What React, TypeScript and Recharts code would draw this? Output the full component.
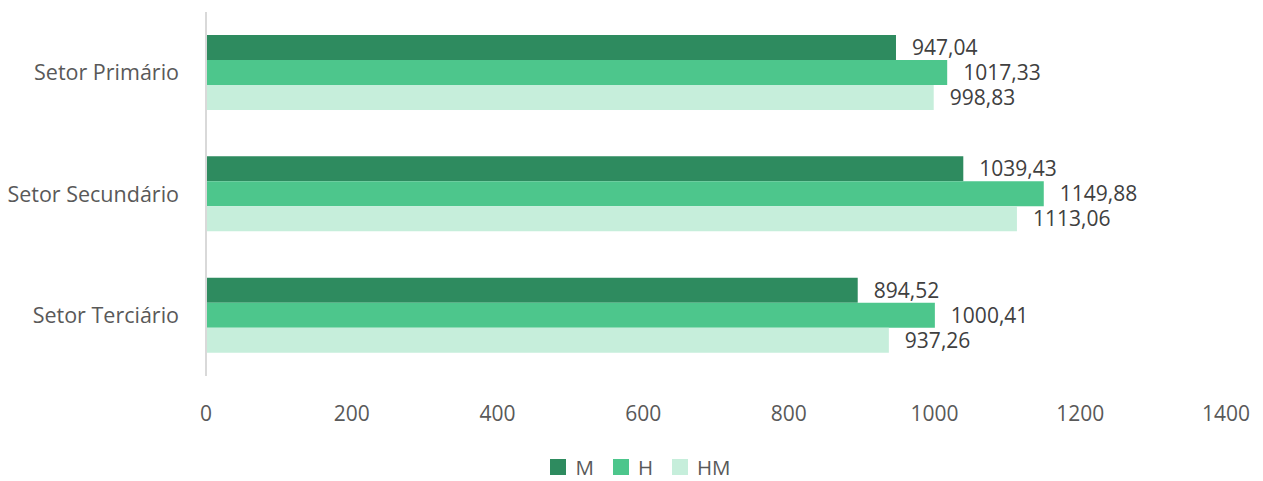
import { BarChart, Bar, XAxis, YAxis, Legend, LabelList } from "recharts";

// categorias e valores
const setores = ["Setor Primário", "Setor Secundário", "Setor Terciário"];
const valoresM = [947.04, 1039.43, 894.52];
const valoresH = [1017.33, 1149.88, 1000.41];
const valoresHM = [998.83, 1113.06, 937.26];
const ticksX = [0, 200, 400, 600, 800, 1000, 1200, 1400];
const series = ["M", "H", "HM"] as const;

const CORES = { M: "#2e8b5f", H: "#4dc68c", HM: "#c6eedb" };
const FONTE = "'Open Sans', 'Noto Sans', sans-serif";

const dados = setores.map((setor, i) => ({
  setor,
  M: valoresM[i],
  H: valoresH[i],
  HM: valoresHM[i],
}));

const fmt = (v: any) => Number(v).toFixed(2).replace(".", ",");

function Legenda() {
  return (
    <div
      style={{
        display: "flex",
        justifyContent: "center",
        gap: 19,
        paddingLeft: 18,
        fontFamily: FONTE,
        fontSize: 20.5,
        lineHeight: "normal",
        color: "#595959",
      }}
    >
      {series.map((k) => (
        <span key={k} style={{ display: "flex", alignItems: "center", gap: 9 }}>
          <span style={{ width: 16, height: 16, background: CORES[k], display: "inline-block" }} />
          {k}
        </span>
      ))}
    </div>
  );
}

export default function App() {
  return (
    <div style={{ position: "absolute", left: 0, top: 0, width: 1263, height: 481, background: "#fff", fontFamily: FONTE }}>
      <BarChart
        width={1263}
        height={481}
        data={dados}
        layout="vertical"
        margin={{ top: 12, right: 37, left: 16, bottom: 0 }}
        barCategoryGap="37%"
        barGap={0}
      >
        <XAxis
          type="number"
          domain={[0, 1400]}
          ticks={ticksX}
          axisLine={false}
          tickLine={false}
          tickSize={0}
          tickMargin={30}
          height={77}
          tick={{ fill: "#595959", fontSize: 21, fontFamily: FONTE }}
          interval={0}
        />
        <YAxis
          type="category"
          dataKey="setor"
          width={190}
          axisLine={{ stroke: "#d9d9d9", strokeWidth: 2 }}
          tickLine={false}
          tickSize={0}
          tickMargin={27}
          tick={{ fill: "#595959", fontSize: 21.5, fontFamily: FONTE }}
        />
        <Legend verticalAlign="bottom" content={<Legenda />} wrapperStyle={{ bottom: 0, left: 0, width: 1263 }} />
        {series.map((k) => (
          <Bar key={k} dataKey={k} name={k} fill={CORES[k]} barSize={25} isAnimationActive={false}>
            <LabelList
              dataKey={k}
              position="right"
              offset={16}
              formatter={fmt}
              style={{ fill: "#404040", fontSize: 21, fontFamily: FONTE }}
            />
          </Bar>
        ))}
      </BarChart>
    </div>
  );
}
